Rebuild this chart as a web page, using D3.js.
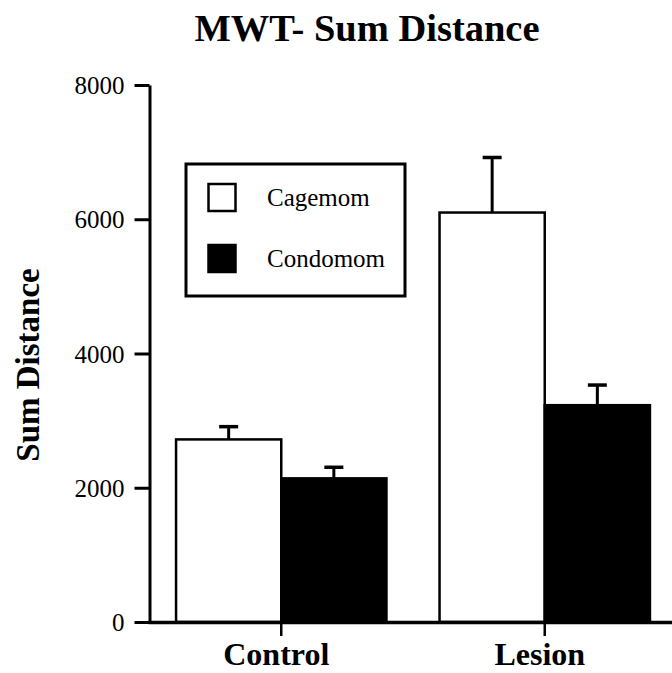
<!DOCTYPE html>
<html>
<head>
<meta charset="utf-8">
<script src="https://cdn.jsdelivr.net/npm/d3@7"></script>
<style>
  html, body { margin: 0; padding: 0; background: #fff; }
  svg { display: block; }
  text { font-family: "Liberation Serif", "Times New Roman", serif; fill: #000; }
</style>
</head>
<body>
<svg id="chart" width="672" height="673"></svg>
<script>
// ---- data ----
const groups = ["Control", "Lesion"];
const series = ["Cagemom", "Condomom"];
const cagemomMean = [2720, 6100];
const cagemomErr = [190, 820];
const condomomMean = [2140, 3230];
const condomomErr = [165, 300];
const yTicks = [0, 2000, 4000, 6000, 8000];
const title = "MWT- Sum Distance";
const yTitle = "Sum Distance";

const svg = d3.select("#chart");

const y = d3.scaleLinear().domain([0, 8000]).range([622, 85]);
const x0 = d3.scaleBand().domain(groups).range([148, 678])
  .paddingInner(0.2015).paddingOuter(0.1065);
const x1 = d3.scaleBand().domain(series).range([0, x0.bandwidth()]).padding(0);

const rows = groups.map((g, i) => ({
  group: g,
  vals: [
    { s: "Cagemom", v: cagemomMean[i], e: cagemomErr[i] },
    { s: "Condomom", v: condomomMean[i], e: condomomErr[i] }
  ]
}));
const fillOf = { Cagemom: "#fff", Condomom: "#000" };

// title
svg.append("text").attr("x", 367).attr("y", 41)
  .attr("text-anchor", "middle").style("font-size", "38.5px").style("font-weight", "bold")
  .text(title);

// y title
svg.append("text")
  .attr("transform", "translate(39,365) rotate(-90)")
  .attr("text-anchor", "middle").style("font-size", "33px").style("font-weight", "bold")
  .text(yTitle);

// bars
const gGroups = svg.append("g").selectAll("g").data(rows).join("g")
  .attr("transform", d => `translate(${x0(d.group)},0)`);

gGroups.selectAll("g.err").data(d => d.vals).join("g").attr("class", "err")
  .each(function(d) {
    const cx = x1(d.s) + x1.bandwidth() / 2;
    const g = d3.select(this);
    g.append("line").attr("x1", cx).attr("x2", cx)
      .attr("y1", y(d.v)).attr("y2", y(d.v + d.e))
      .attr("stroke", "#000").attr("stroke-width", 3);
    g.append("line").attr("x1", cx - 9.5).attr("x2", cx + 9.5)
      .attr("y1", y(d.v + d.e)).attr("y2", y(d.v + d.e))
      .attr("stroke", "#000").attr("stroke-width", 3.5);
  });

gGroups.selectAll("rect").data(d => d.vals).join("rect")
  .attr("x", d => x1(d.s))
  .attr("y", d => y(d.v))
  .attr("width", x1.bandwidth())
  .attr("height", d => y(0) - y(d.v))
  .attr("fill", d => fillOf[d.s])
  .attr("stroke", "#000").attr("stroke-width", 2.5);

// y axis
const yAxis = svg.append("g").attr("transform", "translate(149.5,0)")
  .call(d3.axisLeft(y).tickValues(yTicks).tickFormat(d3.format("d")).tickSize(15).tickSizeOuter(0).tickPadding(10));
yAxis.select(".domain").attr("stroke-width", 3);
yAxis.selectAll(".tick line").attr("stroke-width", 3);
yAxis.selectAll(".tick text").style("font-size", "25px")
  .style("font-family", "'Liberation Serif', 'Times New Roman', serif").attr("dy", "0.34em");

// x axis
const xAxis = svg.append("g").attr("transform", "translate(0,622)")
  .call(d3.axisBottom(x0).tickSize(14).tickSizeOuter(0));
xAxis.select(".domain").attr("stroke-width", 3.5);
xAxis.selectAll(".tick line").attr("stroke-width", 2.5);
xAxis.selectAll(".tick text").style("font-size", "32px").style("font-weight", "bold")
  .style("font-family", "'Liberation Serif', 'Times New Roman', serif")
  .attr("y", 43).attr("dy", null).attr("dx", "-5");

// legend
const leg = svg.append("g");
leg.append("rect").attr("x", 186).attr("y", 164).attr("width", 219).attr("height", 132)
  .attr("fill", "#fff").attr("stroke", "#000").attr("stroke-width", 3);
series.forEach((s, i) => {
  const yy = 184 + i * 61;
  leg.append("rect").attr("x", 208.5).attr("y", yy).attr("width", 27).attr("height", 27)
    .attr("fill", fillOf[s]).attr("stroke", "#000").attr("stroke-width", 2.5);
  leg.append("text").attr("x", 267).attr("y", yy + 22).style("font-size", "25px").text(s);
});
</script>
</body>
</html>
